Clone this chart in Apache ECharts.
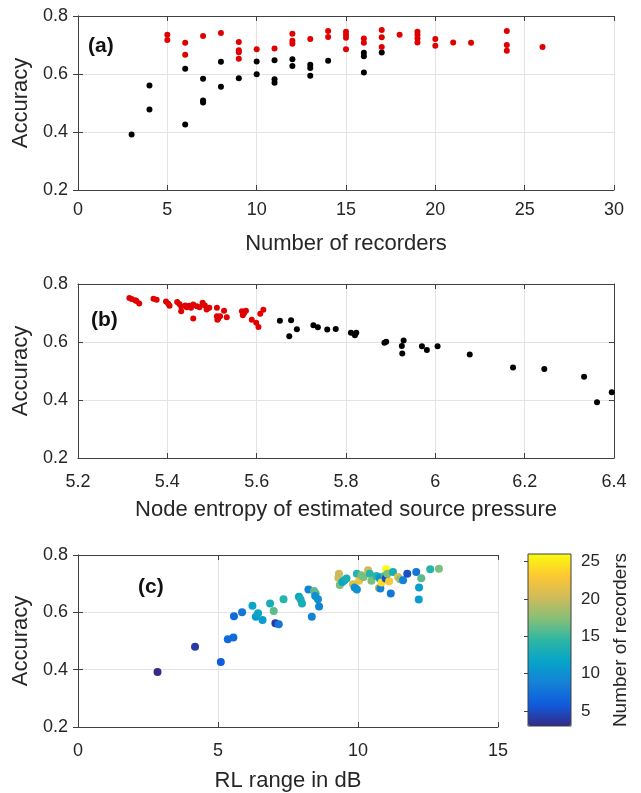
<!DOCTYPE html>
<html>
<head>
<meta charset="utf-8">
<script src="https://cdn.jsdelivr.net/npm/echarts@6/dist/echarts.min.js"></script>
<style>
html, body { margin: 0; padding: 0; background: #fff; }
#main { width: 641px; height: 793px; }
</style>
</head>
<body>
<div id="main"></div>
<script>
// (a) accuracy vs number of recorders
var recordersRed = [5,5,6,6,7,8,9,9,9,9,10,11,12,12,12,13,14,14,15,15,15,15,16,16,17,17,17,18,19,19,19,19,20,20,21,22,24,24,24,26];
var accuracyRed = [0.735,0.717,0.708,0.666,0.731,0.741,0.710,0.682,0.675,0.653,0.685,0.688,0.739,0.715,0.704,0.721,0.748,0.728,0.746,0.735,0.725,0.685,0.722,0.708,0.752,0.727,0.693,0.735,0.746,0.735,0.722,0.709,0.721,0.697,0.709,0.708,0.748,0.700,0.680,0.693];
var recordersBlack = [3,4,4,6,6,7,7,7,8,8,9,10,10,11,11,11,12,12,13,13,13,14,16,16,16,17];
var accuracyBlack = [0.391,0.560,0.478,0.618,0.426,0.584,0.509,0.502,0.642,0.556,0.585,0.643,0.599,0.647,0.582,0.570,0.651,0.628,0.632,0.621,0.594,0.646,0.673,0.661,0.605,0.674];

// (b) accuracy vs node entropy
var entropyRed = [5.315,5.320,5.328,5.331,5.337,5.369,5.376,5.397,5.402,5.405,5.422,5.427,5.431,5.431,5.440,5.443,5.449,5.453,5.458,5.466,5.472,5.458,5.479,5.484,5.488,5.494,5.511,5.527,5.533,5.511,5.514,5.518,5.512,5.567,5.572,5.576,5.569,5.589,5.599,5.604,5.608,5.615];
var entAccRed = [0.752,0.748,0.744,0.741,0.733,0.749,0.746,0.740,0.732,0.725,0.738,0.731,0.722,0.706,0.726,0.720,0.725,0.718,0.729,0.723,0.720,0.681,0.735,0.726,0.712,0.718,0.718,0.708,0.685,0.689,0.681,0.689,0.677,0.706,0.700,0.708,0.692,0.677,0.666,0.652,0.697,0.711];
var entropyBlack = [5.652,5.677,5.673,5.690,5.727,5.737,5.758,5.777,5.811,5.820,5.823,5.886,5.890,5.925,5.929,5.926,5.970,5.981,6.005,6.077,6.174,6.244,6.333,6.362,6.395];
var entAccBlack = [0.673,0.675,0.620,0.644,0.658,0.651,0.643,0.645,0.632,0.623,0.632,0.597,0.601,0.586,0.605,0.560,0.585,0.572,0.585,0.557,0.512,0.507,0.480,0.392,0.427];

// (c) accuracy vs RL range, coloured by number of recorders
var rlRange = [2.84,4.18,5.10,5.35,5.55,5.57,5.86,6.23,6.35,6.43,6.59,6.86,6.99,7.05,7.17,7.34,7.89,7.95,8.00,8.23,8.35,8.43,8.49,8.47,8.57,8.61,
	9.32,9.30,9.35,9.44,9.52,9.59,9.82,9.88,9.96,9.96,10.04,10.12,10.20,10.36,10.42,10.48,10.66,10.75,10.78,10.75,10.80,10.84,10.95,10.99,11.01,11.11,11.05,11.25,11.43,11.50,11.61,11.76,12.08,12.26,12.18,11.17,12.17,12.58,12.89];
var rlAccuracy = [0.392,0.480,0.427,0.506,0.512,0.586,0.600,0.623,0.585,0.597,0.573,0.631,0.605,0.562,0.558,0.646,0.654,0.645,0.631,0.680,0.585,0.674,0.666,0.657,0.646,0.620,
	0.735,0.721,0.695,0.706,0.712,0.718,0.698,0.687,0.680,0.735,0.710,0.729,0.723,0.747,0.735,0.710,0.727,0.723,0.718,0.685,0.683,0.704,0.727,0.718,0.750,0.708,0.735,0.741,0.723,0.715,0.712,0.735,0.741,0.719,0.687,0.666,0.645,0.750,0.752];
var rlRecorders = [3,4,6,7,7,7,8,12,11,12,11,13,16,4,8,14,12,13,13,9,9,16,16,10,10,9,
	20,20,17,12,12,13,21,10,10,14,22,17,17,20,14,17,14,13,10,19,9,24,15,5,26,23,17,13,21,18,9,5,8,16,11,8,11,14,17];

var cbTicks = [5,10,15,20,25];
var parula = ['#352a87','#0f5cdd','#1481d6','#06a4ca','#2eb7a4','#87bf77','#d1bb59','#fec832','#f9fb0e'];

function zip(xs, ys) {
	var out = [];
	for (var i = 0; i < xs.length; i++) out.push([xs[i], ys[i]]);
	return out;
}
var rlData = [];
for (var i = 0; i < rlRange.length; i++) rlData.push([rlRange[i], rlAccuracy[i], rlRecorders[i]]);

var axisColor = '#404040', gridColor = '#e3e3e3', textColor = '#262626';
var tickFont = 18, nameFont = 22;

function xBottom(idx, min, max, interval, name, margin, gap) {
	return {
		type: 'value', gridIndex: idx, min: min, max: max, interval: interval, position: 'bottom',
		name: name, nameLocation: 'middle', nameGap: gap,
		nameTextStyle: { fontSize: nameFont, color: textColor },
		axisLine: { show: true, lineStyle: { color: axisColor } },
		axisTick: { show: true, inside: true, length: 5, lineStyle: { color: axisColor } },
		axisLabel: { fontSize: tickFont, color: textColor, margin: margin },
		splitLine: { show: true, lineStyle: { color: gridColor } }
	};
}
function xTop(idx, min, max, interval) {
	return {
		type: 'value', gridIndex: idx, min: min, max: max, interval: interval, position: 'top',
		axisLine: { show: true, lineStyle: { color: axisColor } },
		axisTick: { show: true, inside: true, length: 5, lineStyle: { color: axisColor } },
		axisLabel: { show: false }, splitLine: { show: false }
	};
}
function yLeft(idx) {
	return {
		type: 'value', gridIndex: idx, min: 0.2, max: 0.8, interval: 0.2, position: 'left',
		name: 'Accuracy', nameLocation: 'middle', nameGap: 43,
		nameTextStyle: { fontSize: nameFont, color: textColor },
		axisLine: { show: true, lineStyle: { color: axisColor } },
		axisTick: { show: true, inside: true, length: 5, lineStyle: { color: axisColor } },
		axisLabel: { fontSize: tickFont, color: textColor, margin: 10 },
		splitLine: { show: true, lineStyle: { color: gridColor } }
	};
}
function yRight(idx) {
	return {
		type: 'value', gridIndex: idx, min: 0.2, max: 0.8, interval: 0.2, position: 'right',
		axisLine: { show: true, lineStyle: { color: axisColor } },
		axisTick: { show: true, inside: true, length: 5, lineStyle: { color: axisColor } },
		axisLabel: { show: false }, splitLine: { show: false }
	};
}

var option = {
	animation: false,
	backgroundColor: '#fff',
	textStyle: { fontFamily: 'Liberation Sans, Arial, sans-serif' },
	title: [
		{ text: '(a)', left: 88, top: 36, padding: 0, textStyle: { fontSize: 21, fontWeight: 'bold', color: '#111' } },
		{ text: '(b)', left: 91, top: 310, padding: 0, textStyle: { fontSize: 21, fontWeight: 'bold', color: '#111' } },
		{ text: '(c)', left: 138, top: 577, padding: 0, textStyle: { fontSize: 21, fontWeight: 'bold', color: '#111' } }
	],
	grid: [
		{ left: 78, top: 16, width: 536, height: 174 },
		{ left: 78, top: 284, width: 536, height: 174 },
		{ left: 78, top: 555, width: 420, height: 173 },
		{ left: 528, top: 554, width: 43, height: 172, show: true, z: 10, borderColor: axisColor, borderWidth: 1, backgroundColor: 'transparent' }
	],
	xAxis: [
		xBottom(0, 0, 30, 5, 'Number of recorders', 11, 43),
		xTop(0, 0, 30, 5),
		xBottom(1, 5.2, 6.4, 0.2, 'Node entropy of estimated source pressure', 15, 41),
		xTop(1, 5.2, 6.4, 0.2),
		xBottom(2, 0, 15, 5, 'RL range in dB', 15, 43),
		xTop(2, 0, 15, 5),
		{ type: 'value', gridIndex: 3, min: 0, max: 1, show: false }
	],
	yAxis: [
		yLeft(0), yRight(0),
		yLeft(1), yRight(1),
		yLeft(2), yRight(2),
		{
			type: 'value', gridIndex: 3, min: 3, max: 26, position: 'right',
			name: 'Number of recorders', nameLocation: 'middle', nameGap: 40, nameRotate: 90,
			nameTextStyle: { fontSize: 19, color: textColor },
			axisLine: { show: false },
			axisTick: { show: true, inside: true, length: 4, customValues: cbTicks, lineStyle: { color: axisColor } },
			axisLabel: { fontSize: 17, color: textColor, margin: 10, customValues: cbTicks },
			splitLine: { show: false }
		}
	],
	visualMap: {
		type: 'continuous', min: 3, max: 26, seriesIndex: 4, dimension: 2,
		calculable: false, orient: 'vertical', left: 528, top: 554, padding: 0,
		itemWidth: 43, itemHeight: 172, text: null, showLabel: false,
		inRange: { color: parula }
	},
	series: [
		{ type: 'scatter', xAxisIndex: 0, yAxisIndex: 0, symbolSize: 6, itemStyle: { color: '#000', opacity: 1 }, data: zip(recordersBlack, accuracyBlack) },
		{ type: 'scatter', xAxisIndex: 0, yAxisIndex: 0, symbolSize: 6, itemStyle: { color: '#e00000', opacity: 1 }, data: zip(recordersRed, accuracyRed) },
		{ type: 'scatter', xAxisIndex: 2, yAxisIndex: 2, symbolSize: 6, itemStyle: { color: '#000', opacity: 1 }, data: zip(entropyBlack, entAccBlack) },
		{ type: 'scatter', xAxisIndex: 2, yAxisIndex: 2, symbolSize: 6, itemStyle: { color: '#e00000', opacity: 1 }, data: zip(entropyRed, entAccRed) },
		{ type: 'scatter', xAxisIndex: 4, yAxisIndex: 4, symbolSize: 8, itemStyle: { opacity: 1 }, data: rlData }
	]
};

var chart = echarts.init(document.getElementById('main'), null, { renderer: 'canvas' });
chart.setOption(option);
</script>
</body>
</html>
